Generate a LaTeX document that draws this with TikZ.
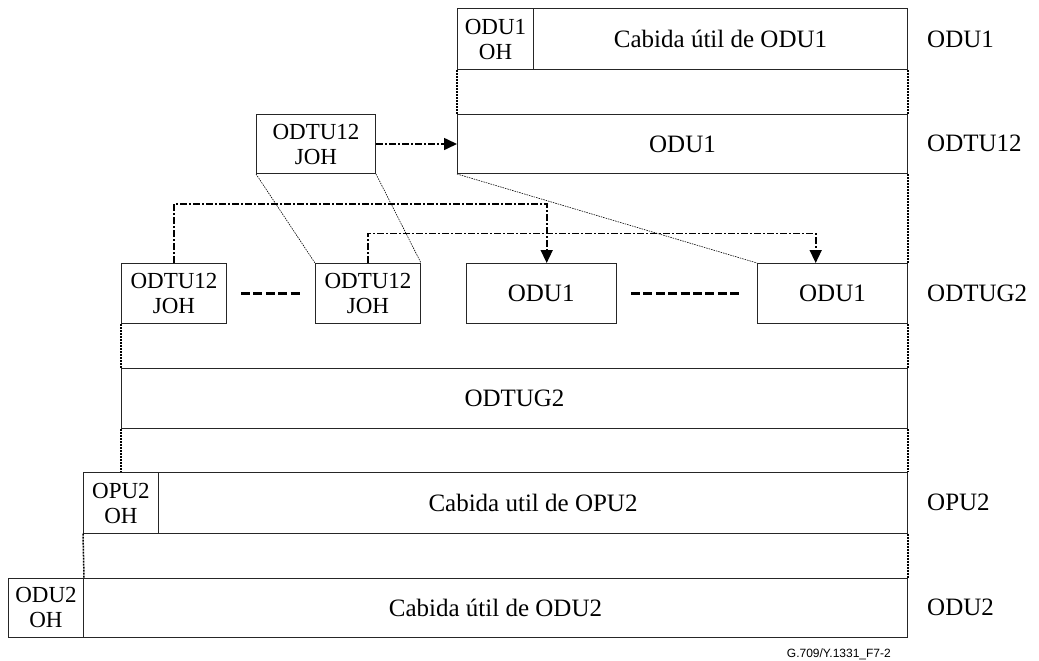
\documentclass[tikz,border=0pt]{standalone}
\usepackage{fontspec}
\setmainfont{Liberation Serif}
\newfontfamily\tagfont{Liberation Sans}
\usetikzlibrary{arrows.meta,calc}

\tikzset{
  big/.style={font=\fontsize{25}{28}\selectfont},
  small/.style={font=\fontsize{23}{25}\selectfont},
  cell/.style={draw=black!85, line width=1pt, rectangle, inner sep=0pt,
    anchor=north west, align=center},
  lbl/.style={big, anchor=west, inner sep=0pt},
  link/.style={line width=1.6pt, dash pattern=on 7pt off 2pt on 2pt off 2pt,
    -{Triangle[length=13pt,width=12pt]}},
  guide/.style={line width=1.5pt, dash pattern=on 2pt off 1pt},
  fan/.style={line width=0.6pt, dash pattern=on 1.5pt off 1pt},
  gap/.style={line width=2.4pt, dash pattern=on 9pt off 3.4pt},
}

\begin{document}
\begin{tikzpicture}[x=1pt,y=-1pt]
\useasboundingbox (0,0) rectangle (1039,661);

% ODU1 frame
\node[cell, small, minimum width=76pt, minimum height=60.5pt] (odu1oh) at (457,8.5) {ODU1\\OH};
\node[cell, big, minimum width=374pt, minimum height=60.5pt] (odu1pl) at (533,8.5) {Cabida útil de ODU1};

% ODTU12 frame
\node[cell, big, minimum width=450pt, minimum height=59pt] (odtu12) at (457,114) {ODU1};
\node[cell, small, minimum width=119pt, minimum height=59pt] (joh0) at (256,114) {ODTU12\\JOH};

% ODTUG2 members
\node[cell, small, minimum width=105pt, minimum height=60pt] (joh1) at (121,263) {ODTU12\\JOH};
\node[cell, small, minimum width=105pt, minimum height=60pt] (joh2) at (315,263) {ODTU12\\JOH};
\node[cell, big, minimum width=150pt, minimum height=60pt] (odu1a) at (465.7,263) {ODU1};
\node[cell, big, minimum width=150pt, minimum height=60pt] (odu1b) at (757,263) {ODU1};

% ODTUG2 frame
\node[cell, big, minimum width=786pt, minimum height=60pt] (odtug2) at (121,368) {ODTUG2};

% OPU2 frame
\node[cell, small, minimum width=75pt, minimum height=60.4pt] (opu2oh) at (83,472.3) {OPU2\\OH};
\node[cell, big, minimum width=749pt, minimum height=60.4pt] (opu2pl) at (158,472.3) {Cabida util de OPU2};

% ODU2 frame
\node[cell, small, minimum width=75pt, minimum height=59.3pt] (odu2oh) at (8,577.7) {ODU2\\OH};
\node[cell, big, minimum width=824pt, minimum height=59.3pt] (odu2pl) at (83,577.7) {Cabida útil de ODU2};

% layer names
\node[lbl] (nodu1) at (927,39) {ODU1};
\node[lbl] (nodtu12) at (927,143.5) {ODTU12};
\node[lbl] (nodtug2) at (927,293) {ODTUG2};
\node[lbl] (nopu2) at (927,502.5) {OPU2};
\node[lbl] (nodu2) at (927,607.3) {ODU2};

% figure tag
\node[font=\tagfont\fontsize{12}{13}\selectfont, anchor=east, inner sep=0pt] (tag) at (891,654) {G.709/Y.1331\_F7-2};

% column guides between frames
\draw[guide] (odu1oh.south west) -- (odtu12.north west);
\draw[guide] (odu1pl.south east) -- (odtu12.north east);
\draw[guide] (odtu12.south east) -- (odu1b.north east);
\draw[guide] (joh1.south west) -- (odtug2.north west);
\draw[guide] (odu1b.south east) -- (odtug2.north east);
\draw[guide] (odtug2.south west) -- (odtug2.south west |- opu2oh.north);
\draw[guide] (odtug2.south east) -- (opu2pl.north east);
\draw[guide] (opu2oh.south west) -- (odu2oh.north east);
\draw[guide] (opu2pl.south east) -- (odu2pl.north east);

% expansion fans
\draw[fan] (joh0.south west) -- (joh2.north west);
\draw[fan] (joh0.south east) -- (joh2.north east);
\draw[fan] (odtu12.south west) -- (odu1b.north west);

% continuation marks
\draw[gap] ($(joh1.east)+(14,0)$) -- ($(joh2.west)+(-14,0)$);
\draw[gap] ($(odu1a.east)+(14.3,0)$) -- ($(odu1b.west)+(-15.3,0)$);

% mapping arrows
\draw[link] (joh0.east) -- (odtu12.west);
\coordinate (t1) at (546.7,204);
\coordinate (t2) at (815.7,233.3);
\draw[link] (joh1.north) |- (t1) -- (t1 |- odu1a.north);
\draw[link] (joh2.north) |- (t2) -- (t2 |- odu1b.north);
\end{tikzpicture}
\end{document}
